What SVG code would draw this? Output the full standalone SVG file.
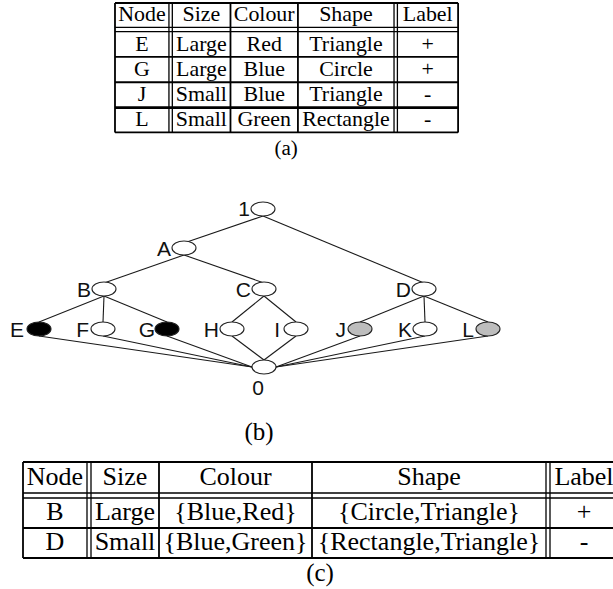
<svg xmlns="http://www.w3.org/2000/svg" width="613" height="589" viewBox="0 0 613 589">
  <style>
    .rule { stroke: #000; stroke-width: 1.8; fill: none; vector-effect: non-scaling-stroke; }
    .dbl { stroke: #000; stroke-width: 1.3; fill: none; vector-effect: non-scaling-stroke; }
    .thick { stroke: #000; stroke-width: 2.8; fill: none; vector-effect: non-scaling-stroke; }
    .cell { font-family: "Liberation Serif", "Times New Roman", serif; font-size: 26px; fill: #000; text-anchor: middle; }
    .cap { font-family: "Liberation Serif", "Times New Roman", serif; font-size: 25px; fill: #000; text-anchor: middle; }
    .edge { stroke: #1a1a1a; stroke-width: 1.1; fill: none; }
    .node { stroke: #222; stroke-width: 1.1; fill: #fff; }
    .node.pos { fill: #000; }
    .node.neg { fill: #bdbdbd; }
    .lbl { font-family: "Liberation Sans", Arial, sans-serif; font-size: 21px; fill: #111; text-anchor: end; }
  </style>

  <!-- Table (a): examples, drawn at full size then reduced -->
  <g id="table-a" transform="translate(72,-0.8) scale(0.843)">
    <g id="table-a-rules">
      <line class="rule" x1="51" y1="4.5" x2="458" y2="4.5"/>
      <line class="dbl" x1="51" y1="33.5" x2="458" y2="33.5"/>
      <line class="dbl" x1="51" y1="38.5" x2="458" y2="38.5"/>
      <line class="rule" x1="51" y1="68.5" x2="458" y2="68.5"/>
      <line class="rule" x1="51" y1="98.5" x2="458" y2="98.5"/>
      <line class="thick" x1="51" y1="128.5" x2="458" y2="128.5"/>
      <line class="rule" x1="51" y1="158" x2="458" y2="158"/>
      <line class="rule" x1="51" y1="4.5" x2="51" y2="158"/>
      <line class="dbl" x1="115" y1="4.5" x2="115" y2="158"/>
      <line class="dbl" x1="119" y1="4.5" x2="119" y2="158"/>
      <line class="rule" x1="188" y1="4.5" x2="188" y2="158"/>
      <line class="rule" x1="268" y1="4.5" x2="268" y2="158"/>
      <line class="dbl" x1="382" y1="4.5" x2="382" y2="158"/>
      <line class="dbl" x1="386" y1="4.5" x2="386" y2="158"/>
      <line class="rule" x1="458" y1="4.5" x2="458" y2="158"/>
    </g>
    <g id="table-a-text">
      <text class="cell" x="83" y="26">Node</text>
      <text class="cell" x="153.5" y="26">Size</text>
      <text class="cell" x="228" y="26">Colour</text>
      <text class="cell" x="325" y="26">Shape</text>
      <text class="cell" x="422" y="26">Label</text>

      <text class="cell" x="83" y="61">E</text>
      <text class="cell" x="153.5" y="61">Large</text>
      <text class="cell" x="228" y="61">Red</text>
      <text class="cell" x="325" y="61">Triangle</text>
      <text class="cell" x="422" y="61">+</text>

      <text class="cell" x="83" y="91">G</text>
      <text class="cell" x="153.5" y="91">Large</text>
      <text class="cell" x="228" y="91">Blue</text>
      <text class="cell" x="325" y="91">Circle</text>
      <text class="cell" x="422" y="91">+</text>

      <text class="cell" x="83" y="121">J</text>
      <text class="cell" x="153.5" y="121">Small</text>
      <text class="cell" x="228" y="121">Blue</text>
      <text class="cell" x="325" y="121">Triangle</text>
      <text class="cell" x="422" y="121">-</text>

      <text class="cell" x="83" y="151">L</text>
      <text class="cell" x="153.5" y="151">Small</text>
      <text class="cell" x="228" y="151">Green</text>
      <text class="cell" x="325" y="151">Rectangle</text>
      <text class="cell" x="422" y="151">-</text>
    </g>
    <text class="cap" x="254" y="185" font-size="27">(a)</text>
  </g>

  <!-- Lattice (b) -->
  <g id="connectors">
    <line class="edge" x1="263" y1="216" x2="184" y2="243"/>
    <line class="edge" x1="263" y1="216" x2="424" y2="283"/>
    <line class="edge" x1="184" y1="255" x2="104" y2="283"/>
    <line class="edge" x1="184" y1="255" x2="264" y2="283"/>
    <line class="edge" x1="104" y1="296" x2="39" y2="322"/>
    <line class="edge" x1="104" y1="296" x2="103" y2="322"/>
    <line class="edge" x1="104" y1="296" x2="167" y2="322"/>
    <line class="edge" x1="264" y1="296" x2="232" y2="322"/>
    <line class="edge" x1="264" y1="296" x2="296" y2="322"/>
    <line class="edge" x1="424" y1="296" x2="360" y2="322"/>
    <line class="edge" x1="424" y1="296" x2="425" y2="322"/>
    <line class="edge" x1="424" y1="296" x2="488" y2="322"/>
    <line class="edge" x1="39" y1="336" x2="252" y2="367"/>
    <line class="edge" x1="103" y1="336" x2="252" y2="367"/>
    <line class="edge" x1="167" y1="336" x2="252" y2="367"/>
    <line class="edge" x1="232" y1="336" x2="264" y2="360"/>
    <line class="edge" x1="296" y1="336" x2="264" y2="360"/>
    <line class="edge" x1="360" y1="336" x2="276" y2="367"/>
    <line class="edge" x1="425" y1="336" x2="276" y2="367"/>
    <line class="edge" x1="488" y1="336" x2="276" y2="367"/>
  </g>

  <g id="node-1"><ellipse class="node" cx="263" cy="209" rx="12" ry="7"/><text class="lbl" x="250" y="216">1</text></g>
  <g id="node-A"><ellipse class="node" cx="184" cy="248" rx="12" ry="7"/><text class="lbl" x="171" y="256">A</text></g>
  <g id="node-B"><ellipse class="node" cx="104" cy="289" rx="12" ry="7"/><text class="lbl" x="91" y="297">B</text></g>
  <g id="node-C"><ellipse class="node" cx="264" cy="289" rx="12" ry="7"/><text class="lbl" x="251" y="297">C</text></g>
  <g id="node-D"><ellipse class="node" cx="424" cy="289" rx="12" ry="7"/><text class="lbl" x="411" y="297">D</text></g>
  <g id="node-E"><ellipse class="node pos" cx="39" cy="329" rx="12" ry="7"/><text class="lbl" x="24" y="337">E</text></g>
  <g id="node-F"><ellipse class="node" cx="103" cy="329" rx="12" ry="7"/><text class="lbl" x="89" y="337">F</text></g>
  <g id="node-G"><ellipse class="node pos" cx="167" cy="329" rx="12" ry="7"/><text class="lbl" x="155" y="337">G</text></g>
  <g id="node-H"><ellipse class="node" cx="232" cy="329" rx="12" ry="7"/><text class="lbl" x="219" y="337">H</text></g>
  <g id="node-I"><ellipse class="node" cx="296" cy="329" rx="12" ry="7"/><text class="lbl" x="280" y="337">I</text></g>
  <g id="node-J"><ellipse class="node neg" cx="360" cy="329" rx="12" ry="7"/><text class="lbl" x="346" y="337">J</text></g>
  <g id="node-K"><ellipse class="node" cx="425" cy="329" rx="12" ry="7"/><text class="lbl" x="412" y="337">K</text></g>
  <g id="node-L"><ellipse class="node neg" cx="488" cy="329" rx="12" ry="7"/><text class="lbl" x="474" y="337">L</text></g>
  <g id="node-0"><ellipse class="node" cx="264" cy="367" rx="12" ry="7"/><text class="lbl" x="264" y="395">0</text></g>

  <text class="cap" x="259" y="440">(b)</text>

  <!-- Table (c): generalised concepts -->
  <g id="table-c">
    <g id="table-c-rules">
      <line class="rule" x1="23" y1="462" x2="620" y2="462"/>
      <line class="dbl" x1="23" y1="493" x2="620" y2="493"/>
      <line class="dbl" x1="23" y1="498" x2="620" y2="498"/>
      <line class="rule" x1="23" y1="528" x2="620" y2="528"/>
      <line class="rule" x1="23" y1="558" x2="620" y2="558"/>
      <line class="rule" x1="23" y1="462" x2="23" y2="558"/>
      <line class="dbl" x1="87" y1="462" x2="87" y2="558"/>
      <line class="dbl" x1="91" y1="462" x2="91" y2="558"/>
      <line class="rule" x1="159" y1="462" x2="159" y2="558"/>
      <line class="rule" x1="312" y1="462" x2="312" y2="558"/>
      <line class="dbl" x1="546" y1="462" x2="546" y2="558"/>
      <line class="dbl" x1="550" y1="462" x2="550" y2="558"/>
      <line class="rule" x1="620" y1="462" x2="620" y2="558"/>
    </g>
    <g id="table-c-text">
      <text class="cell" x="55" y="485">Node</text>
      <text class="cell" x="125" y="485">Size</text>
      <text class="cell" x="235.5" y="485">Colour</text>
      <text class="cell" x="429" y="485">Shape</text>
      <text class="cell" x="584" y="485">Label</text>

      <text class="cell" x="55" y="520">B</text>
      <text class="cell" x="125" y="520">Large</text>
      <text class="cell" x="235.5" y="520">{Blue,Red}</text>
      <text class="cell" x="429" y="520">{Circle,Triangle}</text>
      <text class="cell" x="584" y="520">+</text>

      <text class="cell" x="55" y="550">D</text>
      <text class="cell" x="125" y="550">Small</text>
      <text class="cell" x="235.5" y="550">{Blue,Green}</text>
      <text class="cell" x="429" y="550">{Rectangle,Triangle}</text>
      <text class="cell" x="584" y="550">-</text>
    </g>
    <text class="cap" x="320" y="581">(c)</text>
  </g>
</svg>
